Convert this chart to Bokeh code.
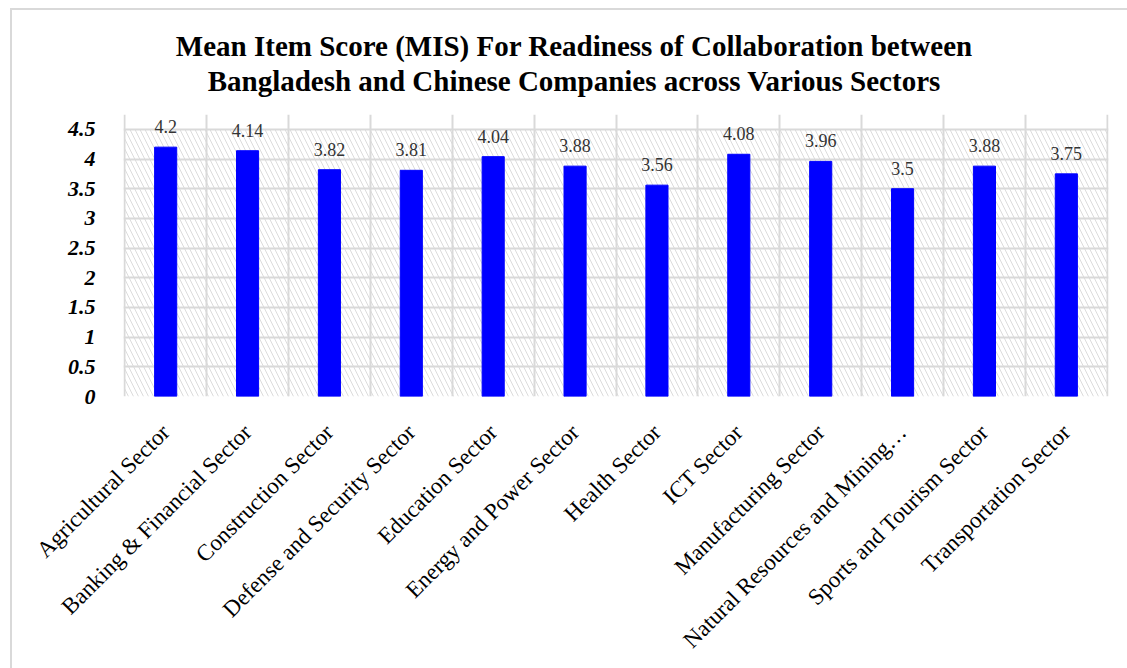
from bokeh.plotting import figure
from bokeh.models import (ColumnDataSource, FixedTicker, BoxAnnotation, LabelSet,
                          CustomJSTickFormatter, Div)
from bokeh.layouts import column
from bokeh.embed import file_html
from bokeh.resources import INLINE
import math

title_lines = ["Mean Item Score (MIS) For Readiness of Collaboration between",
               "Bangladesh and Chinese Companies across Various Sectors"]
sectors = ["Agricultural Sector", "Banking & Financial Sector", "Construction Sector",
           "Defense and Security Sector", "Education Sector", "Energy and Power Sector",
           "Health Sector", "ICT Sector", "Manufacturing Sector",
           "Natural Resources and Mining…", "Sports and Tourism Sector", "Transportation Sector"]
scores = [4.2, 4.14, 3.82, 3.81, 4.04, 3.88, 3.56, 4.08, 3.96, 3.5, 3.88, 3.75]
score_labels = ["4.2", "4.14", "3.82", "3.81", "4.04", "3.88", "3.56", "4.08", "3.96", "3.5", "3.88", "3.75"]
y_ticks = [0, 0.5, 1, 1.5, 2, 2.5, 3, 3.5, 4, 4.5]
y_max = 4.5

n = len(sectors)
xs = [i + 0.5 for i in range(n)]
src = ColumnDataSource(dict(x=xs, y=scores, lab=score_labels))

title_html = ('<div style="width:1124px;text-align:center;font-family:\'Liberation Serif\';'
              'font-weight:bold;font-size:29px;line-height:35px;color:#000;padding-top:19px;">'
              + "<br>".join(title_lines) + "</div>")
div = Div(text=title_html, width=1115, height=100, margin=0)

p = figure(width=1115, height=558, x_range=(-0.015, n + 0.015), y_range=(0, 4.75),
           output_backend="svg", toolbar_location=None,
           min_border_left=111, min_border_right=19, min_border_top=4, min_border_bottom=272)
p.margin = 0

bg = BoxAnnotation(top=y_max, left=0, right=n, fill_color="white", fill_alpha=1, line_alpha=0,
                   hatch_pattern="\\", hatch_color="#dcdcdc", hatch_scale=10,
                   hatch_weight=1, level="image")
p.add_layout(bg)

p.vbar(x="x", top="y", width=0.27, bottom=0, source=src, color="#0000ff")

labels = LabelSet(x="x", y="y", text="lab", source=src, y_offset=14, text_align="center",
                  text_font="Liberation Serif", text_font_size="18px", text_color="#333333")
p.add_layout(labels)

p.outline_line_color = None

p.ygrid.ticker = FixedTicker(ticks=y_ticks)
p.ygrid.grid_line_color = "#d9d9d9"
p.ygrid.grid_line_width = 2
p.xgrid.ticker = FixedTicker(ticks=list(range(n + 1)))
p.xgrid.grid_line_color = "#d9d9d9"
p.xgrid.grid_line_width = 2
p.xgrid.bounds = (0, y_max)

p.yaxis.ticker = FixedTicker(ticks=y_ticks)
p.yaxis.formatter = CustomJSTickFormatter(code="return tick.toString();")
p.yaxis.axis_line_color = None
p.yaxis.major_tick_line_color = None
p.yaxis.minor_tick_line_color = None
p.yaxis.major_label_text_font = "Liberation Serif"
p.yaxis.major_label_text_font_style = "bold italic"
p.yaxis.major_label_text_font_size = "22px"
p.yaxis.major_label_text_color = "#000000"
p.yaxis.major_label_standoff = 22

p.xaxis.ticker = FixedTicker(ticks=xs)
p.xaxis.major_label_overrides = {x: s for x, s in zip(xs, sectors)}
p.xaxis.major_label_orientation = math.pi / 4
p.xaxis.axis_line_color = None
p.xaxis.major_tick_line_color = None
p.xaxis.minor_tick_line_color = None
p.xaxis.major_label_text_font = "Liberation Serif"
p.xaxis.major_label_text_font_size = "23px"
p.xaxis.major_label_text_color = "#000000"
p.xaxis.major_label_standoff = 26

layout = column(div, p, spacing=0)
layout.margin = (8, 0, 0, 10)
layout.styles = {"border-top": "2px solid #d9d9d9", "border-left": "2px solid #d9d9d9"}

open("out.html", "w").write(file_html(layout, INLINE))
